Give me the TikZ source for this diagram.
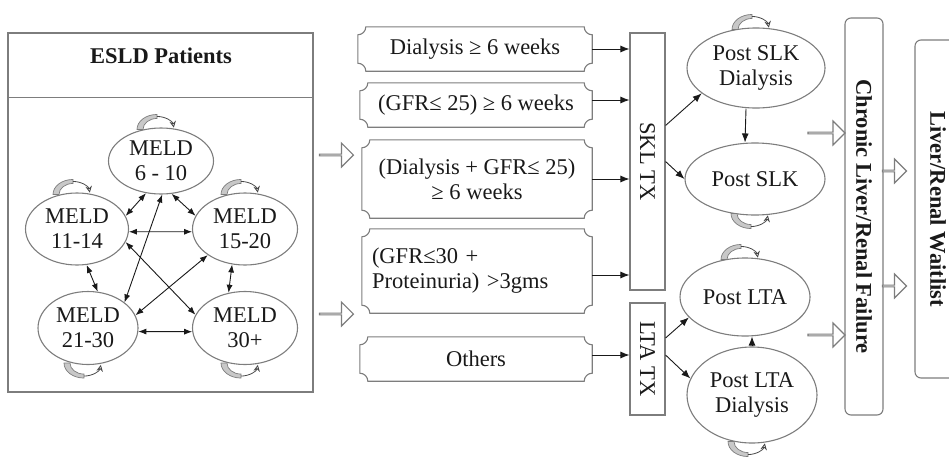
\documentclass[tikz,border=0pt]{standalone}
\usepackage{fontspec}
\setmainfont{Liberation Serif}
\usetikzlibrary{shapes.geometric, shapes.arrows, arrows.meta, positioning, calc}
\definecolor{framegray}{RGB}{125,125,125}
\definecolor{loopgray}{RGB}{200,200,200}
\definecolor{inkdark}{RGB}{25,25,25}

\tikzset{
  base/.style={font=\fontsize{22.5}{25}\selectfont, text=inkdark},
  boldbase/.style={font=\fontsize{22.5}{25}\selectfont\bfseries, text=inkdark},
  frame/.style={draw=framegray, line width=1.1pt},
  meld/.style={base, ellipse, frame, inner sep=0pt, align=center},
  cond/.style={base, inner sep=0pt, align=center},
  txbox/.style={base, frame, inner sep=0pt},
  railbox/.style={boldbase, frame, rounded corners=6pt, inner sep=0pt},
  conn/.style={draw=inkdark, line width=0.9pt, -{Latex[length=9pt,width=7pt]}},
  twoway/.style={draw=inkdark, line width=0.9pt, {Latex[length=8pt,width=6pt]}-{Latex[length=8pt,width=6pt]}},
  openarrow/.style={single arrow, frame, fill=white, inner sep=0pt, single arrow head extend=6.5pt, minimum width=24pt},
  loopband/.style={draw=framegray, fill=loopgray, line width=0.7pt},
  loopline/.style={draw=inkdark!80, line width=0.8pt, -{Stealth[open, length=6.5pt, width=6.5pt]}}
}

\begin{document}
\begin{tikzpicture}[x=1pt, y=-1pt]
  \useasboundingbox (0,0) rectangle (949,458);

  % ESLD panel
  \node[frame, minimum width=305pt, minimum height=359pt, inner sep=0pt] (panel) at (160.5,212.5) {};
  \draw[frame] ([yshift=-65pt]panel.north west) -- ([yshift=-65pt]panel.north east);
  \node[boldbase] (esld) at (161,56) {ESLD Patients};

  \node[meld, minimum width=105pt, minimum height=66pt] (m1) at (161,161) {MELD\\6 - 10};
  \node[meld, minimum width=103pt, minimum height=72pt] (m2) at (77,229) {MELD\\11-14};
  \node[meld, minimum width=105pt, minimum height=72pt] (m3) at (245,229) {MELD\\15-20};
  \node[meld, minimum width=100pt, minimum height=73pt] (m4) at (88,328) {MELD\\21-30};
  \node[meld, minimum width=105pt, minimum height=73pt] (m5) at (245,328) {MELD\\30+};

  \draw[twoway] (m1.-115) -- (m2.15);
  \draw[twoway] (m1.-72) -- (m3.165);
  \draw[twoway] (m1.-88) -- (m4.35);
  \draw[twoway] (m2.-3) -- (m3.183);
  \draw[twoway] (m2.-75) -- (m4.75);
  \draw[twoway] (m2.-15) -- (m5.165);
  \draw[twoway] (m4.15) -- (m3.215);
  \draw[twoway] (m3.-110) -- (m5.115);
  \draw[twoway] (m4.-4) -- (m5.184);

  \node[openarrow, minimum height=34pt] (a1) at (336,155) {};
  \node[openarrow, minimum height=34pt] (a2) at (336,314) {};

  % criteria
  \node[cond, minimum width=234pt, minimum height=44pt] (c1) at (475,49) {Dialysis ≥ 6 weeks};
  \node[cond, minimum width=232pt, minimum height=44pt] (c2) at (476,105) {(GFR≤ 25) ≥ 6 weeks};
  \node[cond, minimum width=230pt, minimum height=78pt] (c3) at (477,179) {(Dialysis + GFR≤ 25)\\≥ 6 weeks};
  \node[cond, minimum width=230pt, minimum height=84pt, text width=210pt, align=left] (c4) at (477,271) {(GFR≤30 +\\Proteinuria) >3gms};
  \node[cond, minimum width=232pt, minimum height=44pt] (c5) at (476,359) {Others};

  \foreach \n in {c1,c2,c3,c4,c5}
    \draw[frame] ([xshift=8pt]\n.north west) -- ([xshift=-8pt]\n.north east)
      arc[radius=8, start angle=180, end angle=90]
      -- ([yshift=8pt]\n.south east) arc[radius=8, start angle=270, end angle=180]
      -- ([xshift=8pt]\n.south west) arc[radius=8, start angle=360, end angle=270]
      -- ([yshift=-8pt]\n.north west) arc[radius=8, start angle=90, end angle=0] -- cycle;

  \node[txbox, minimum width=35pt, minimum height=257pt] (skl) at (647.5,161.5) {\rotatebox{-90}{SKL TX}};
  \node[txbox, minimum width=35pt, minimum height=112pt] (lta) at (647.5,359) {\rotatebox{-90}{LTA TX}};

  \draw[conn] (c1.east) -- (c1.east -| skl.west);
  \draw[conn] ([yshift=5pt]c2.east) -- ([yshift=5pt]c2.east -| skl.west);
  \draw[conn] (c3.east) -- (c3.east -| skl.west);
  \draw[conn] ([yshift=-4pt]c4.east) -- ([yshift=-4pt]c4.east -| skl.west);
  \draw[conn] ([yshift=4pt]c5.east) -- ([yshift=4pt]c5.east -| lta.west);

  % post transplant states
  \node[meld, minimum width=138pt, minimum height=80pt] (psd) at (756,68) {Post SLK\\Dialysis};
  \node[meld, minimum width=140pt, minimum height=72pt] (ps) at (755,179) {Post SLK};
  \node[meld, minimum width=130pt, minimum height=78pt] (pl) at (745,297) {Post LTA};
  \node[meld, minimum width=130pt, minimum height=96pt] (pld) at (752,395) {Post LTA\\Dialysis};

  \draw[conn] ([yshift=36pt]skl.east) -- (psd.205);
  \draw[conn] (skl.east) -- (ps.west);
  \draw[conn] ([xshift=-10pt]psd.south) -- ([xshift=-10pt]ps.north);
  \draw[conn] ([yshift=21pt]lta.east) -- (pl.200);
  \draw[conn] ([yshift=4pt]lta.east) -- (pld.165);
  \draw[conn] (pld.north) -- (pld.north |- pl.south);

  % self loops
  \foreach \n in {m1,m2,m3,psd,pl} {
    \path ([xshift=-4pt,yshift=-2pt]\n.north) coordinate (c);
    \filldraw[loopband] (c) ++(-20,0) arc[x radius=20, y radius=15, start angle=180, end angle=270]
      -- ++(0,4) arc[x radius=14, y radius=11, start angle=270, end angle=180] -- cycle;
    \draw[loopline] (c) ++(0,-13) arc[x radius=17, y radius=13, start angle=270, end angle=352];
  }
  \foreach \n in {m4,m5,ps,pld} {
    \path ([xshift=-4pt,yshift=2pt]\n.south) coordinate (c);
    \filldraw[loopband] (c) ++(-20,0) arc[x radius=20, y radius=15, start angle=180, end angle=90]
      -- ++(0,-4) arc[x radius=14, y radius=11, start angle=90, end angle=180] -- cycle;
    \draw[loopline] (c) ++(0,13) arc[x radius=17, y radius=13, start angle=90, end angle=8];
  }

  \node[openarrow, minimum height=37pt] (a3) at (826,133) {};
  \node[openarrow, minimum height=37pt] (a4) at (826,335) {};

  \node[railbox, minimum width=38pt, minimum height=397pt] (clrf) at (864,216.5) {\rotatebox{-90}{Chronic Liver/Renal Failure}};
  \node[openarrow, minimum height=24pt] (a5) at (894,171) {};
  \node[openarrow, minimum height=24pt] (a6) at (894,286) {};
  \node[railbox, minimum width=46pt, minimum height=338pt] (wait) at (938,209) {\rotatebox{-90}{Liver/Renal Waitlist}};
\end{tikzpicture}
\end{document}
